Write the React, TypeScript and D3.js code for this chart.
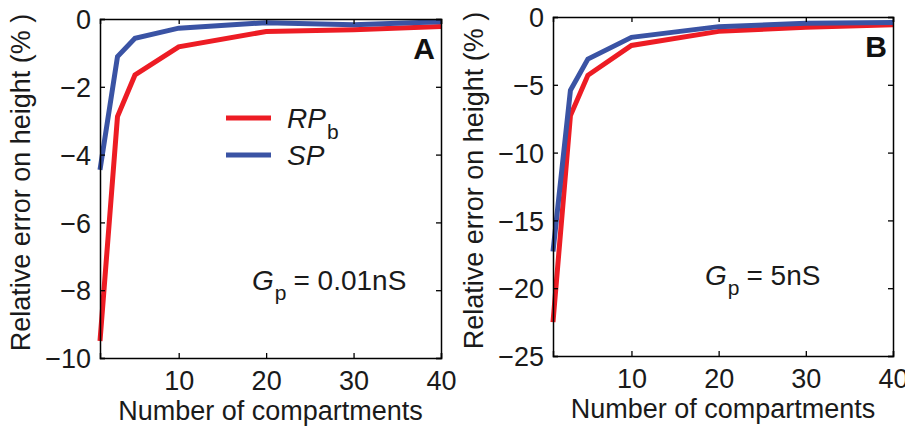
import React, { useEffect, useRef } from "react";
import * as d3 from "d3";

// data
const compartments = [1, 3, 5, 10, 20, 30, 40];
const rpA = [-9.5, -2.88, -1.65, -0.82, -0.37, -0.32, -0.22];
const spA = [-4.45, -1.11, -0.57, -0.27, -0.11, -0.17, -0.08];
const rpB = [-22.5, -7.27, -4.3, -2.1, -1.06, -0.76, -0.57];
const spB = [-17.3, -5.4, -3.1, -1.5, -0.71, -0.47, -0.4];
const xTicks = [10, 20, 30, 40];
const yTicksA = [0, -2, -4, -6, -8, -10];
const yTicksB = [0, -5, -10, -15, -20, -25];
const panelLetters = ["A", "B"];
const gpLabels = ["= 0.01nS", "= 5nS"];

const RED = "#ed1c24";
const BLUE = "#3a53a4";
const FONT = "'Liberation Sans', Arial, Helvetica, sans-serif";

const App = () => {
  const svgRef = useRef(null);
  const svgWidth = 905;
  const svgHeight = 427;

  useEffect(() => {
    const svg = d3
      .select(svgRef.current)
      .attr("width", svgWidth)
      .attr("height", svgHeight);

    svg.selectAll("*").remove();

    const panels = [
      { left: 100, right: 441, top: 19, bottom: 358, yMin: -10, yTicks: yTicksA, rp: rpA, sp: spA, legend: true, gpY: 271 },
      { left: 553, right: 893, top: 17, bottom: 356, yMin: -25, yTicks: yTicksB, rp: rpB, sp: spB, legend: false, gpY: 268 },
    ];

    panels.forEach((p, i) => {
      const w = p.right - p.left;
      const h = p.bottom - p.top;

      const xScale = d3.scaleLinear().domain([1, 40]).range([0, w]);
      const yScale = d3.scaleLinear().domain([p.yMin, 0]).range([h, 0]);

      const g = svg
        .append("g")
        .attr("transform", `translate(${p.left},${p.top})`)
        .style("font-family", FONT);

      // series
      const line = d3
        .line()
        .x((d) => xScale(d[0]))
        .y((d) => yScale(d[1]));

      [
        { vals: p.rp, color: RED },
        { vals: p.sp, color: BLUE },
      ].forEach((s) => {
        g.append("path")
          .datum(compartments.map((c, k) => [c, s.vals[k]]))
          .attr("d", line)
          .attr("fill", "none")
          .attr("stroke", s.color)
          .attr("stroke-width", 5)
          .attr("stroke-linejoin", "miter");
      });

      // axes with inward ticks
      const yAxis = d3.axisLeft(yScale).tickValues(p.yTicks).tickSize(-5).tickPadding(9);
      const yAxisG = g.append("g").call(yAxis);
      const yAxisR = g
        .append("g")
        .attr("transform", `translate(${w},0)`)
        .call(d3.axisRight(yScale).tickValues(p.yTicks).tickSize(-5).tickFormat(() => ""));

      const xAxisG = g
        .append("g")
        .attr("transform", `translate(0,${h})`)
        .call(d3.axisBottom(xScale).tickValues(xTicks).tickSize(-5).tickPadding(12));
      const xAxisT = g
        .append("g")
        .call(d3.axisTop(xScale).tickValues(xTicks).tickSize(-5).tickFormat(() => ""));

      [yAxisG, yAxisR, xAxisG, xAxisT].forEach((a) => {
        a.selectAll(".domain").attr("stroke", "#000").attr("stroke-width", 1.5);
        a.selectAll(".tick line").attr("stroke", "#000").attr("stroke-width", 1.3);
        a.selectAll("text")
          .attr("fill", "#1a1a1a")
          .style("font-size", "27px")
          .style("font-family", FONT);
      });
      yAxisG.selectAll("text").attr("dy", "0.36em");
      xAxisG.selectAll("text").attr("dy", "0.74em");

      // axis labels
      g.append("text")
        .attr("x", w / 2)
        .attr("y", h + 62)
        .attr("text-anchor", "middle")
        .attr("fill", "#1a1a1a")
        .style("font-size", "27px")
        .text("Number of compartments");

      g.append("text")
        .attr("transform", `translate(-70,${h / 2 - 6}) rotate(-90)`)
        .attr("text-anchor", "middle")
        .attr("fill", "#1a1a1a")
        .style("font-size", "27px")
        .text("Relative error on height (% )");

      // panel letter
      g.append("text")
        .attr("x", w - 6)
        .attr("y", 40)
        .attr("text-anchor", "end")
        .attr("fill", "#111")
        .style("font-size", "30px")
        .style("font-weight", "bold")
        .text(panelLetters[i]);

      // G_p annotation
      const gp = g
        .append("text")
        .attr("x", 152)
        .attr("y", p.gpY)
        .attr("fill", "#1a1a1a")
        .style("font-size", "28px");
      gp.append("tspan").style("font-style", "italic").text("G");
      gp.append("tspan").attr("dy", 10).attr("dx", 1).style("font-size", "21px").text("p");
      gp.append("tspan").attr("dy", -10).attr("dx", 7).text(gpLabels[i]);

      // legend
      if (p.legend) {
        const legendItems = [
          { color: RED, main: "RP", sub: "b" },
          { color: BLUE, main: "SP", sub: "" },
        ];
        legendItems.forEach((d, k) => {
          const ly = 99 + k * 37;
          g.append("line")
            .attr("x1", 126)
            .attr("x2", 171)
            .attr("y1", ly)
            .attr("y2", ly)
            .attr("stroke", d.color)
            .attr("stroke-width", 5);
          const t = g
            .append("text")
            .attr("x", 187)
            .attr("y", ly + 10)
            .attr("fill", "#1a1a1a")
            .style("font-size", "28px");
          t.append("tspan").style("font-style", "italic").text(d.main);
          if (d.sub) {
            t.append("tspan").attr("dy", 11).attr("dx", 1).style("font-size", "21px").text(d.sub);
          }
        });
      }
    });
  }, []);

  return (
    <svg
      ref={svgRef}
      style={{ position: "absolute", left: 0, top: 0, background: "#fff" }}
    ></svg>
  );
};

export default App;
